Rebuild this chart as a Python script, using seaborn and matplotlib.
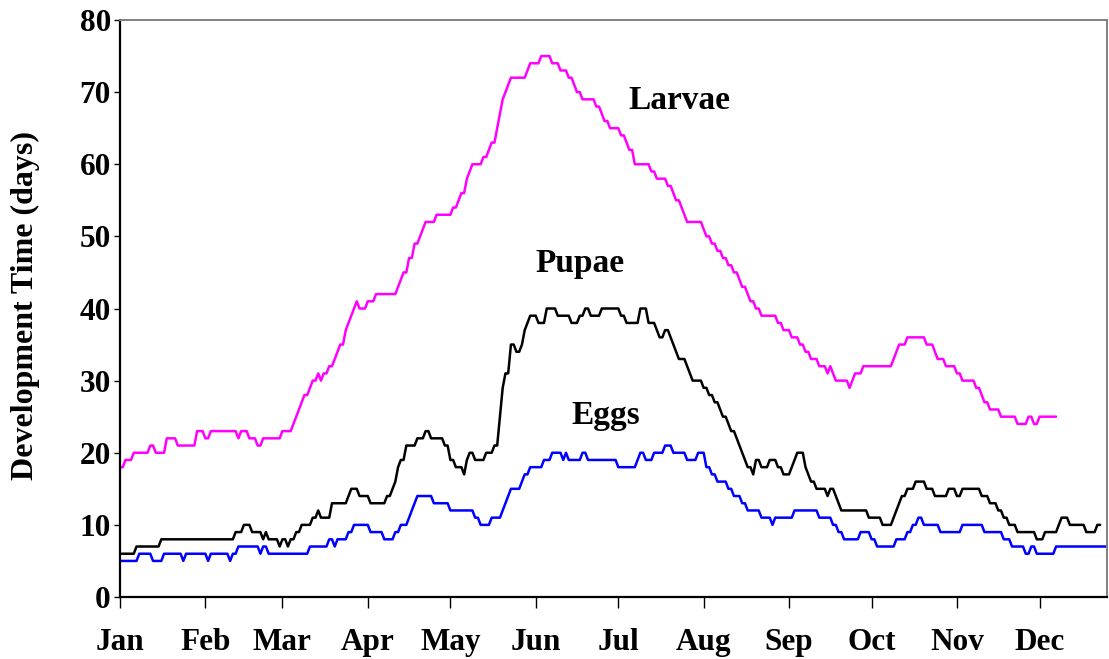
import numpy as np
import pandas as pd
import matplotlib
matplotlib.use("Agg")
import matplotlib.pyplot as plt
import seaborn as sns

# step data: day where a value starts, and the value
larvae_start = [0, 2, 5, 11, 13, 17, 21, 28, 31, 33, 43, 44, 47, 50, 52, 59, 63, 64, 65, 66,
                67, 69, 70, 72, 73, 74, 76, 78, 79, 80, 82, 83, 84, 85, 86, 87, 90, 93, 101, 102,
                103, 105, 107, 109, 110, 111, 115, 121, 123, 124, 126, 127, 128, 132, 134, 135, 137, 138, 139, 140,
                141, 142, 148, 149, 153, 157, 160, 163, 165, 166, 168, 173, 175, 176, 178, 182, 184, 185, 187, 193,
                195, 199, 201, 202, 204, 205, 206, 212, 213, 215, 217, 219, 221, 223, 225, 226, 228, 229, 231, 233,
                239, 241, 244, 247, 249, 251, 254, 257, 258, 259, 260, 265, 266, 267, 270, 281, 282, 283, 286, 293,
                296, 297, 300, 304, 306, 311, 313, 314, 316, 320, 326, 330, 332, 334]
larvae_vals = [18, 19, 20, 21, 20, 22, 21, 23, 22, 23, 22, 23, 22, 21, 22, 23, 24, 25, 26, 27,
               28, 29, 30, 31, 30, 31, 32, 33, 34, 35, 37, 38, 39, 40, 41, 40, 41, 42, 43, 44,
               45, 47, 49, 50, 51, 52, 53, 54, 55, 56, 58, 59, 60, 61, 62, 63, 65, 67, 69, 70,
               71, 72, 73, 74, 75, 74, 73, 72, 71, 70, 69, 68, 67, 66, 65, 64, 63, 62, 60, 59,
               58, 57, 56, 55, 54, 53, 52, 51, 50, 49, 48, 47, 46, 45, 44, 43, 42, 41, 40, 39,
               38, 37, 36, 35, 34, 33, 32, 31, 32, 31, 30, 29, 30, 31, 32, 33, 34, 35, 36, 35,
               34, 33, 32, 31, 30, 29, 28, 27, 26, 25, 24, 25, 24, 25]
larvae_end = 341

pupae_start = [0, 6, 15, 42, 45, 48, 52, 53, 54, 58, 59, 61, 62, 64, 66, 70, 72, 73, 77, 83,
               84, 87, 91, 97, 99, 100, 101, 102, 104, 108, 111, 113, 118, 120, 122, 125, 126, 127, 129, 133,
               136, 138, 139, 140, 142, 144, 146, 147, 148, 149, 152, 155, 159, 164, 167, 169, 171, 175, 182, 184,
               189, 192, 195, 196, 198, 200, 201, 202, 203, 206, 207, 208, 212, 214, 216, 218, 219, 221, 222, 224,
               225, 226, 227, 228, 230, 231, 233, 236, 239, 241, 244, 245, 246, 249, 250, 251, 253, 257, 258, 260,
               261, 262, 272, 277, 281, 282, 283, 284, 286, 289, 293, 296, 301, 304, 306, 313, 316, 319, 321, 323,
               326, 333, 336, 341, 342, 345, 351, 355]
pupae_vals = [6, 7, 8, 9, 10, 9, 8, 9, 8, 7, 8, 7, 8, 9, 10, 11, 12, 11, 13, 14,
              15, 14, 13, 14, 15, 16, 18, 19, 21, 22, 23, 22, 21, 19, 18, 17, 19, 20, 19, 20,
              21, 25, 29, 31, 35, 34, 35, 37, 38, 39, 38, 40, 39, 38, 39, 40, 39, 40, 39, 38,
              40, 38, 37, 36, 37, 36, 35, 34, 33, 32, 31, 30, 29, 28, 27, 26, 25, 24, 23, 22,
              21, 20, 19, 18, 17, 19, 18, 19, 18, 17, 18, 19, 20, 18, 17, 16, 15, 14, 15, 14,
              13, 12, 11, 10, 11, 12, 13, 14, 15, 16, 15, 14, 15, 14, 15, 14, 13, 12, 11, 10,
              9, 8, 9, 10, 11, 10, 9, 10]
pupae_end = 357

eggs_start = [0, 7, 12, 16, 23, 24, 32, 33, 40, 41, 43, 51, 52, 54, 69, 76, 78, 79, 83, 85,
              91, 96, 100, 102, 105, 106, 107, 108, 114, 120, 129, 131, 135, 139, 140, 141, 142, 146, 147, 149,
              154, 157, 161, 162, 163, 168, 170, 181, 188, 189, 191, 194, 198, 201, 206, 210, 213, 215, 217, 221,
              223, 226, 228, 233, 237, 238, 245, 254, 259, 261, 263, 269, 273, 275, 282, 286, 288, 290, 292, 298,
              306, 314, 321, 324, 329, 331, 333, 340]
eggs_vals = [5, 6, 5, 6, 5, 6, 5, 6, 5, 6, 7, 6, 7, 6, 7, 8, 7, 8, 9, 10,
             9, 8, 9, 10, 11, 12, 13, 14, 13, 12, 11, 10, 11, 12, 13, 14, 15, 16, 17, 18,
             19, 20, 19, 20, 19, 20, 19, 18, 19, 20, 19, 20, 21, 20, 19, 20, 18, 17, 16, 15,
             14, 13, 12, 11, 10, 11, 12, 11, 10, 9, 8, 9, 8, 7, 8, 9, 10, 11, 10, 9,
             10, 9, 8, 7, 6, 7, 6, 7]
eggs_end = 359

month_start = [0, 31, 59, 90, 120, 151, 181, 212, 243, 273, 304, 334]
month_names = ["Jan", "Feb", "Mar", "Apr", "May", "Jun",
               "Jul", "Aug", "Sep", "Oct", "Nov", "Dec"]


def expand(starts, vals, end):
    counts = np.diff(starts + [end])
    return np.repeat(vals, counts)


frames = []
for name, starts, vals, end in [("Larvae", larvae_start, larvae_vals, larvae_end),
                                ("Pupae", pupae_start, pupae_vals, pupae_end),
                                ("Eggs", eggs_start, eggs_vals, eggs_end)]:
    y = expand(starts, vals, end)
    frames.append(pd.DataFrame({"day": np.arange(len(y)), "days": y, "stage": name}))
df = pd.concat(frames, ignore_index=True)

sns.set_style("ticks")
plt.rcParams["font.family"] = ["Liberation Serif", "DejaVu Serif"]
plt.rcParams["font.weight"] = "bold"
plt.rcParams["text.color"] = "black"
plt.rcParams["axes.labelcolor"] = "black"

fig = plt.figure(figsize=(11.09, 6.59), dpi=100)
ax = fig.add_axes([120 / 1109, 1 - 597 / 659, (1107 - 120) / 1109, (597 - 20) / 659])

palette = {"Larvae": "#ff00ff", "Pupae": "#000000", "Eggs": "#0000ff"}
sns.lineplot(data=df, x="day", y="days", hue="stage", palette=palette,
             linewidth=1.8, legend=False, ax=ax)

ax.set_xlim(0, 358.5)
ax.set_ylim(0, 80)
ax.set_yticks(range(0, 81, 10))
ax.set_xticks(month_start)
ax.set_xticklabels(month_names)
ax.tick_params(axis="x", direction="out", length=8, width=1, pad=14,
               labelsize=22.5, colors="black")
ax.tick_params(axis="y", direction="out", length=4.5, width=1, pad=2,
               labelsize=22.5, colors="black")
for lab in ax.get_xticklabels() + ax.get_yticklabels():
    lab.set_fontweight("bold")

ax.set_xlabel("")
ax.set_ylabel("Development Time (days)", fontsize=23, fontweight="bold", color="black")
ax.yaxis.set_label_coords(-0.081, 0.505)

for side in ["left", "bottom"]:
    ax.spines[side].set_color("black")
    ax.spines[side].set_linewidth(1.6)
for side in ["top", "right"]:
    ax.spines[side].set_visible(True)
    ax.spines[side].set_color("#808080")
    ax.spines[side].set_linewidth(1.4)

ax.text(203, 68.8, "Larvae", fontsize=24, fontweight="bold", ha="center", va="center", color="black")
ax.text(167, 46.2, "Pupae", fontsize=24, fontweight="bold", ha="center", va="center", color="black")
ax.text(176.5, 25.1, "Eggs", fontsize=24, fontweight="bold", ha="center", va="center", color="black")

fig.savefig("out.png", dpi=100)
